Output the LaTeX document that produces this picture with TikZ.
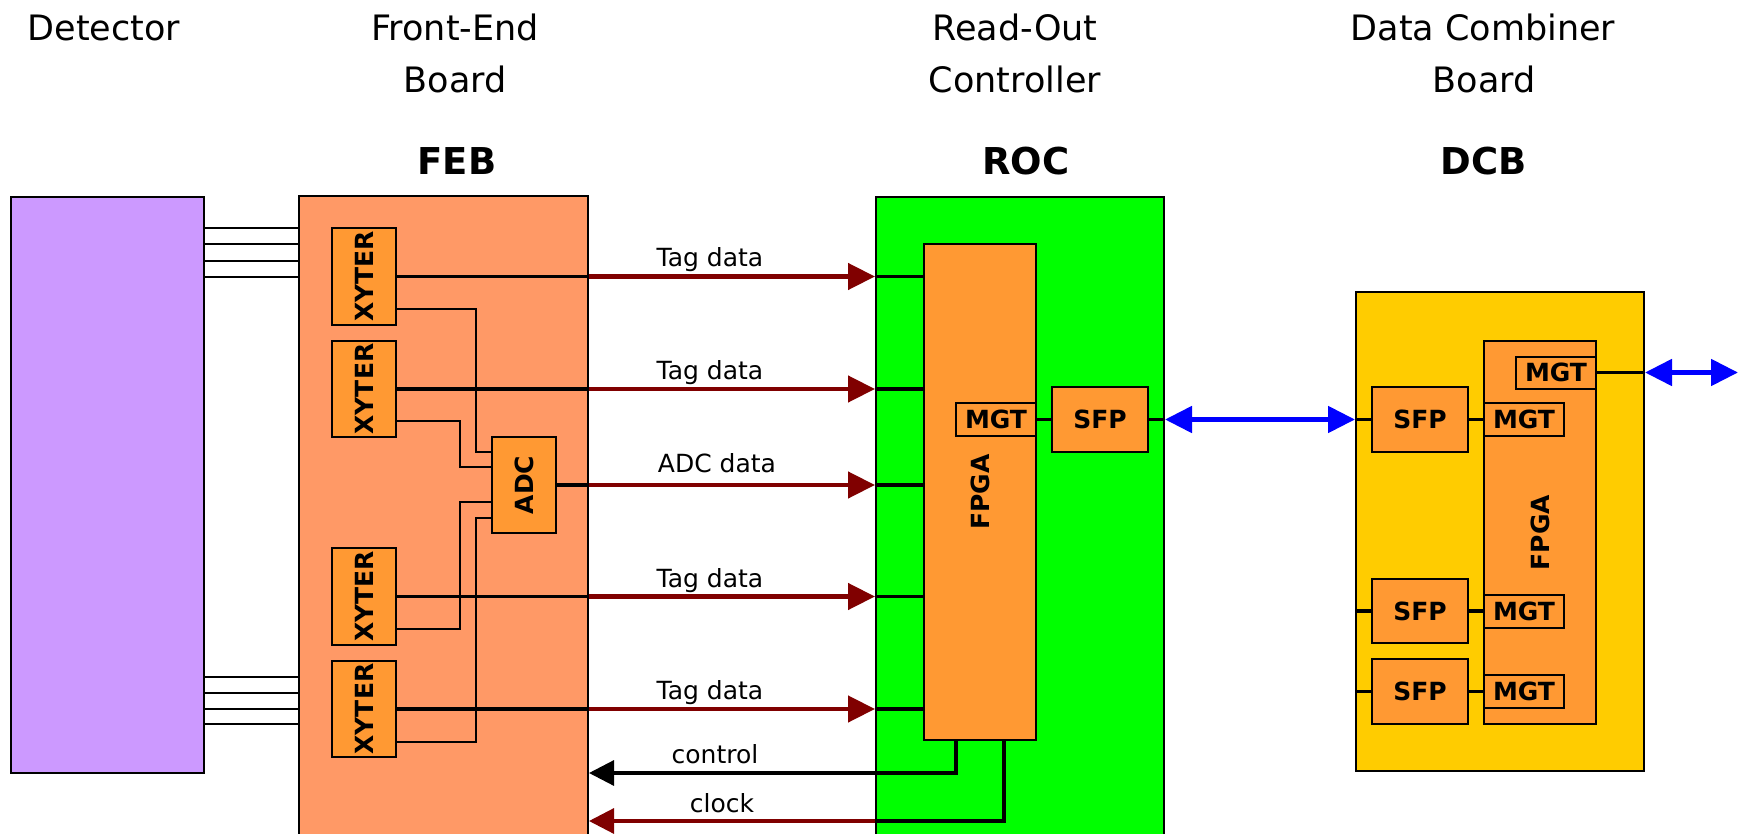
\documentclass[tikz,border=0pt]{standalone}
\usepackage{fontspec}
\usepackage{graphicx}
\setmainfont{DejaVu Sans}
\usetikzlibrary{arrows.meta,calc}
\definecolor{detc}{HTML}{CC99FF}
\definecolor{febc}{HTML}{FF9966}
\definecolor{chipc}{HTML}{FF9933}
\definecolor{rocc}{HTML}{00FF00}
\definecolor{dcbc}{HTML}{FFCC00}
\definecolor{dred}{HTML}{800000}
\definecolor{lblue}{HTML}{0000FF}
\begin{document}
\begin{tikzpicture}[x=1pt,y=-1pt,
  board/.style={draw=black, line width=2pt, inner sep=0pt},
  chip/.style={draw=black, line width=2pt, fill=chipc, inner sep=0pt, font=\bfseries\fontsize{25}{25}\selectfont},
  title/.style={anchor=base, inner sep=0pt, font=\fontsize{35}{40}\selectfont},
  btitle/.style={anchor=base, inner sep=0pt, font=\bfseries\fontsize{37}{40}\selectfont},
  lab/.style={anchor=base, inner sep=0pt, font=\fontsize{25}{28}\selectfont},
  detline/.style={draw=black, line width=1.8pt},
  thn/.style={draw=black, line width=1.6pt},
  thk/.style={draw=black, line width=3.2pt},
  redarr/.style={draw=dred, line width=4.5pt, -{Triangle[length=27pt,width=26pt]}},
  redclk/.style={draw=dred, line width=3.2pt, -{Triangle[length=25pt,width=25pt]}},
  ctl/.style={draw=black, line width=3.2pt, -{Triangle[length=25pt,width=25pt]}},
  bluearr/.style={draw=lblue, line width=5pt, {Triangle[length=27pt,width=26pt]}-{Triangle[length=27pt,width=26pt]}}
]
\clip (0,0) rectangle (1740,834);
\fill[white] (0,0) rectangle (1740,834);

% titles
\node[title] (tdet) at (104,41) {Detector};
\node[title] (tfe1) at (455,41) {Front-End};
\node[title] (tfe2) at (455,93) {Board};
\node[btitle] (tfeb) at (457,175) {FEB};
\node[title] (tro1) at (1015,41) {Read-Out};
\node[title] (tro2) at (1015,93) {Controller};
\node[btitle] (troc) at (1026,175) {ROC};
\node[title] (tdc1) at (1483,41) {Data Combiner};
\node[title] (tdc2) at (1484,93) {Board};
\node[btitle] (tdcb) at (1484,175) {DCB};

% boards
\node[board, fill=detc, minimum width=193pt, minimum height=576pt] (det) at (107.5,485) {};
\node[board, fill=febc, minimum width=289pt, minimum height=664pt] (feb) at (443.5,528) {};
\node[board, fill=rocc, minimum width=288pt, minimum height=663pt] (roc) at (1020,528.5) {};
\node[board, fill=dcbc, minimum width=288pt, minimum height=479pt] (dcb) at (1500,531.5) {};

% FEB chips
\node[chip, minimum width=64pt, minimum height=97pt] (x1) at (364,276.5) {\rotatebox{90}{XYTER}};
\node[chip, minimum width=64pt, minimum height=96pt] (x2) at (364,389) {\rotatebox{90}{XYTER}};
\node[chip, minimum width=64pt, minimum height=97pt] (x3) at (364,596.5) {\rotatebox{90}{XYTER}};
\node[chip, minimum width=64pt, minimum height=96pt] (x4) at (364,709) {\rotatebox{90}{XYTER}};
\node[chip, minimum width=64pt, minimum height=96pt] (adc) at (524,485) {\rotatebox{90}{ADC}};

% ROC chips
\node[chip, minimum width=112pt, minimum height=496pt] (rfpga) at (980,492) {\rotatebox{90}{FPGA}};
\node[chip, minimum width=80pt, minimum height=33pt] (rmgt) at (996,419.5) {MGT};
\node[chip, minimum width=96pt, minimum height=65pt] (rsfp) at (1100,419.5) {SFP};

% DCB chips
\node[chip, minimum width=112pt, minimum height=383pt] (dfpga) at (1540,532.5) {\rotatebox{90}{FPGA}};
\node[chip, minimum width=80pt, minimum height=32pt] (m0) at (1556,372.5) {MGT};
\node[chip, minimum width=96pt, minimum height=65pt] (s1) at (1420,419.5) {SFP};
\node[chip, minimum width=80pt, minimum height=33pt] (m1) at (1524,419.5) {MGT};
\node[chip, minimum width=96pt, minimum height=64pt] (s2) at (1420,611) {SFP};
\node[chip, minimum width=80pt, minimum height=33pt] (m2) at (1524,611) {MGT};
\node[chip, minimum width=96pt, minimum height=65pt] (s3) at (1420,691.5) {SFP};
\node[chip, minimum width=80pt, minimum height=33pt] (m3) at (1524,691.5) {MGT};

% detector to FEB lines
\foreach \yy in {228,244,261,277,677,693,709,724}
  \draw[detline] (det.east |- 0,\yy) -- (feb.west |- 0,\yy);

% data paths FEB -> ROC
\foreach \n in {x1,x2,adc,x3,x4} {
  \draw[thk] (\n.east) -- (\n.east -| feb.east);
  \draw[redarr] (\n.east -| feb.east) -- (\n.east -| roc.west);
  \draw[thk] (\n.east -| roc.west) -- (\n.east -| rfpga.west);
}

% XYTER -> ADC
\coordinate (b1) at (476,0);
\coordinate (b2) at (460,0);
\coordinate (a1) at ([yshift=-16pt]adc.north west);
\coordinate (a2) at ([yshift=-31pt]adc.north west);
\coordinate (a3) at ([yshift=32pt]adc.south west);
\coordinate (a4) at ([yshift=16pt]adc.south west);
\draw[thn] ([yshift=17pt]x1.south east) -| (a1 -| b1) -- (a1);
\draw[thn] ([yshift=17pt]x2.south east) -| (a2 -| b2) -- (a2);
\draw[thn] ([yshift=17pt]x3.south east) -| (a3 -| b2) -- (a3);
\draw[thn] ([yshift=16pt]x4.south east) -| (a4 -| b1) -- (a4);

% control and clock
\draw[ctl] ([xshift=-24pt]rfpga.south) |- (feb.east |- 0,773);
\coordinate (ck) at (roc.west |- 0,821);
\draw[thk] ([xshift=24pt]rfpga.south) |- (ck);
\draw[redclk] (ck) -- (feb.east |- ck);

% labels
\node[lab] (l1) at (710,267) {Tag data};
\node[lab] (l2) at (710,379) {Tag data};
\node[lab] (l3) at (717,472) {ADC data};
\node[lab] (l4) at (710,587) {Tag data};
\node[lab] (l5) at (710,699) {Tag data};
\node[lab] (l6) at (715,763) {control};
\node[lab] (l7) at (722,812) {clock};

% ROC -> DCB
\draw[thk] (rmgt.east) -- (rsfp.west);
\draw[thk] (rsfp.east) -- (rsfp.east -| roc.east);
\draw[bluearr] (rsfp.east -| roc.east) -- (rsfp.east -| dcb.west);
\draw[thk] (rsfp.east -| dcb.west) -- (s1.west);
\draw[thk] (s1.east) -- (m1.west);
\draw[thk] (s2.west -| dcb.west) -- (s2.west);
\draw[thk] (s2.east) -- (m2.west);
\draw[thk] (s3.west -| dcb.west) -- (s3.west);
\draw[thk] (s3.east) -- (m3.west);
\draw[thk] (m0.east) -- (m0.east -| dcb.east);
\coordinate (ext) at (1738,372.5);
\draw[bluearr] (m0.east -| dcb.east) -- (ext);
\end{tikzpicture}
\end{document}
